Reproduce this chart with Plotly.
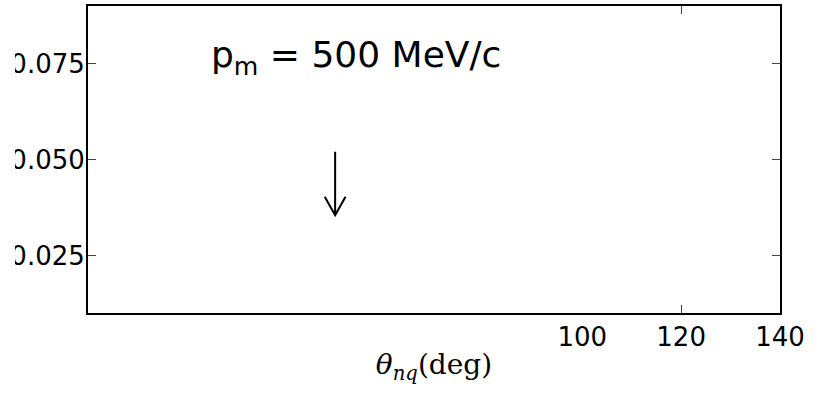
import plotly.graph_objects as go

# Axis limits and tick positions
X_RANGE = [0, 140]
Y_RANGE = [0.01, 0.09]
X_TICKS = [100, 120, 140]
X_MINOR_TICKS = [120]
Y_TICKS = [0.025, 0.050, 0.075]

# Annotation: missing momentum label and the marker arrow
LABEL_TEXT = "p<sub>m</sub> = 500 MeV/c"
LABEL_X = 24.4
LABEL_Y = 0.0765
ARROW_X = 50
ARROW_Y_START = 0.0520
ARROW_Y_END = 0.0355
HEAD_DX = 2.1
HEAD_DY = 0.0048

fig = go.Figure()

# empty traces so both x axes are laid out
fig.add_trace(go.Scatter(x=[], y=[], xaxis="x", yaxis="y", showlegend=False))
fig.add_trace(go.Scatter(x=[], y=[], xaxis="x2", yaxis="y", showlegend=False))

axis_font = dict(family="DejaVu Sans", size=26, color="black")

fig.update_layout(
    width=821,
    height=393,
    margin=dict(l=88, r=41, t=6, b=80),
    paper_bgcolor="white",
    plot_bgcolor="white",
    showlegend=False,
    xaxis=dict(
        range=X_RANGE,
        tickvals=X_TICKS,
        ticktext=[str(v) for v in X_TICKS],
        ticks="",
        showgrid=False,
        zeroline=False,
        showline=True,
        linecolor="black",
        linewidth=2,
        mirror=True,
        tickfont=axis_font,
        automargin=False,
        title=dict(
            text="<i>θ</i><sub><i>nq</i></sub>(deg)",
            font=dict(family="DejaVu Serif", size=28, color="black"),
            standoff=3,
        ),
    ),
    xaxis2=dict(
        range=X_RANGE,
        overlaying="x",
        matches="x",
        tickvals=X_MINOR_TICKS,
        ticks="inside",
        ticklen=8,
        tickwidth=1,
        tickcolor="#444",
        mirror="ticks",
        showticklabels=False,
        showgrid=False,
        zeroline=False,
        showline=False,
    ),
    yaxis=dict(
        range=Y_RANGE,
        tickvals=Y_TICKS,
        tickformat=".3f",
        ticks="inside",
        ticklen=8,
        tickwidth=1,
        tickcolor="#444",
        ticklabelstandoff=-4,
        showgrid=False,
        zeroline=False,
        showline=True,
        linecolor="black",
        linewidth=2,
        mirror="ticks",
        tickfont=axis_font,
        automargin=False,
    ),
)

fig.add_annotation(
    x=LABEL_X, y=LABEL_Y, xref="x", yref="y",
    text=LABEL_TEXT, showarrow=False,
    xanchor="left", yanchor="middle",
    font=dict(family="DejaVu Sans", size=36, color="black"),
)

# open-headed arrow drawn as a path in data coordinates
arrow_path = (
    f"M {ARROW_X},{ARROW_Y_START} L {ARROW_X},{ARROW_Y_END} "
    f"M {ARROW_X - HEAD_DX},{ARROW_Y_END + HEAD_DY} L {ARROW_X},{ARROW_Y_END} "
    f"L {ARROW_X + HEAD_DX},{ARROW_Y_END + HEAD_DY}"
)
fig.add_shape(type="path", path=arrow_path, xref="x", yref="y",
              line=dict(color="black", width=2))

# the page's left edge trims the leading digit of the y tick labels
fig.add_shape(type="rect", xref="paper", yref="paper",
              xsizemode="pixel", xanchor=0, x0=-90, x1=-73,
              y0=-0.05, y1=1.05, fillcolor="white", line=dict(width=0),
              layer="above")

fig.write_html("out.html")
